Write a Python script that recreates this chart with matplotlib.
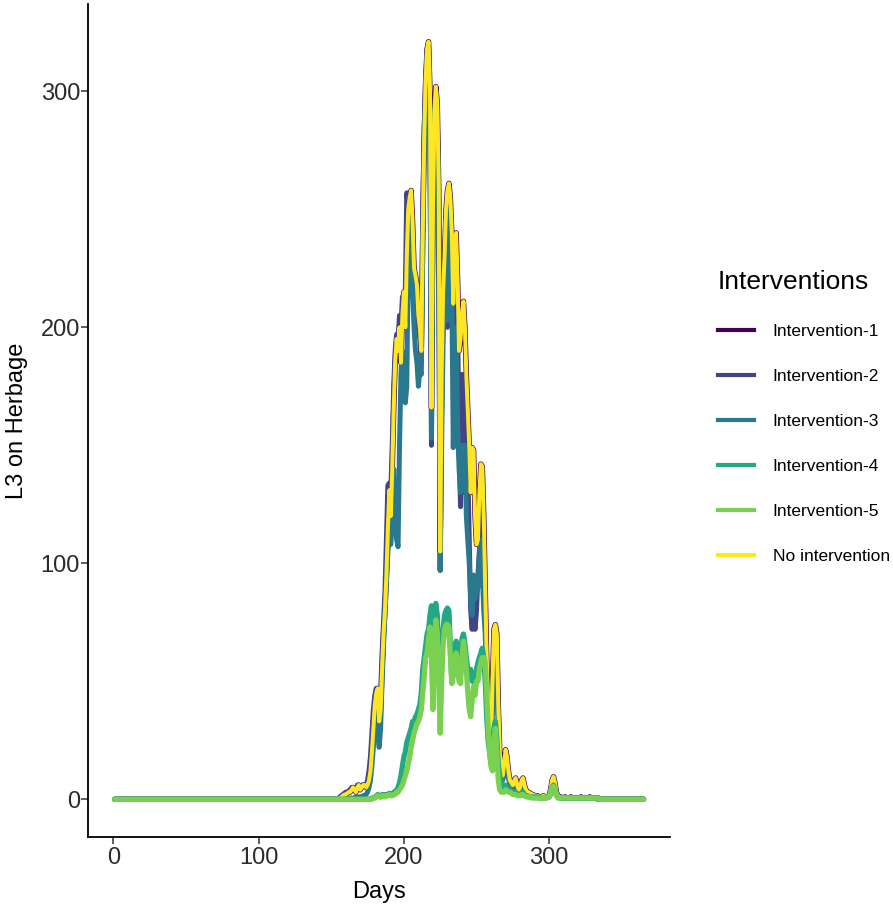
import numpy as np
import matplotlib
matplotlib.use('Agg')
import matplotlib.pyplot as plt
from matplotlib.lines import Line2D

plt.rcParams['font.family'] = ['Liberation Sans', 'DejaVu Sans']

# daily L3 values; everything outside days 150-339 sits at 0
first_day = 150
last_day = 365

no_int = [
    0, 0, 0, 0, 0, 0, 0.5, 1, 1.5, 2,
    2, 2.5, 3, 3, 4, 5, 4, 3, 5, 6,
    4, 5, 6, 6, 5, 6, 8, 12, 20, 30,
    40, 45, 47, 33, 38, 55, 70, 80, 95, 115,
    131, 120, 140, 165, 185, 195, 190, 200, 185, 205,
    215, 200, 230, 250, 255, 258, 245, 225, 222, 218,
    205, 200, 190, 240, 280, 305, 318, 321, 300, 166,
    250, 290, 302, 295, 260, 105, 180, 215, 230, 250,
    258, 261, 255, 240, 210, 235, 240, 220, 190, 195,
    205, 211, 200, 180, 165, 150, 130, 149, 148, 120,
    108, 110, 130, 142, 141, 120, 90, 60, 40, 30,
    24, 50, 72, 74, 70, 40, 20, 12, 10, 15,
    21, 18, 12, 8, 7, 6, 8, 9, 6, 4,
    5, 8, 9, 6, 4, 3, 3, 2.5, 2, 2,
    1.5, 1.5, 1.5, 1, 1, 1, 1.5, 1, 1, 1,
    1.5, 4, 8, 9.5, 7, 3, 1.5, 1, 1, 0.5,
    0.5, 1, 0.5, 0.5, 0.5, 1, 0.5, 0.5, 0.5, 0.5,
    0.5, 0.5, 1, 0.5, 0.5, 0.5, 0.5, 0.5, 1, 0.5,
    0.5, 0.5, 0.5, 0.5, 0.5, 0, 0, 0, 0, 0,
]

int1 = list(no_int)  # reads the same as no intervention

int2 = [
    0, 0, 0, 0, 0, 0, 1, 1.5, 2, 2.5,
    3, 3, 3.5, 4, 5, 5, 4, 4, 6, 6,
    5, 6, 6, 6, 6, 8, 12, 18, 28, 38,
    44, 47, 42, 30, 45, 62, 75, 88, 110, 133,
    134, 130, 150, 175, 190, 197, 195, 205, 200, 213,
    212, 215, 257, 252, 250, 245, 235, 222, 218, 210,
    200, 195, 185, 250, 285, 305, 318, 320, 290, 150,
    250, 290, 300, 290, 255, 97, 170, 205, 225, 245,
    200, 258, 250, 235, 200, 225, 230, 200, 150, 124,
    180, 130, 180, 160, 140, 110, 80, 72, 90, 72,
    80, 95, 105, 130, 125, 100, 75, 55, 38, 28,
    22, 45, 65, 68, 60, 35, 18, 11, 9, 13,
    18, 15, 10, 7, 6, 5, 7, 8, 5, 4,
    4, 7, 8, 5, 3.5, 3, 2.5, 2, 2, 1.5,
    1.5, 1.5, 1, 1, 1, 1, 1, 1, 1, 1,
    1.5, 3.5, 7, 8.5, 6, 2.5, 1.5, 1, 1, 0.5,
    0.5, 1, 0.5, 0.5, 0.5, 1, 0.5, 0.5, 0.5, 0.5,
    0.5, 0.5, 1, 0.5, 0.5, 0.5, 0.5, 0.5, 1, 0.5,
    0.5, 0.5, 0.5, 0.5, 0.5, 0, 0, 0, 0, 0,
]

int3 = [
    0, 0, 0, 0, 0, 0, 0, 0, 0, 0,
    0, 0, 0, 0.5, 0.5, 0.5, 0.5, 1, 1, 1,
    1, 1, 1.5, 1.5, 2, 3, 5, 8, 14, 22,
    30, 35, 30, 22, 30, 50, 65, 80, 92, 105,
    110, 108, 118, 140, 120, 110, 107, 150, 180, 190,
    180, 168, 175, 230, 245, 240, 215, 200, 190, 185,
    175, 182, 180, 235, 275, 300, 315, 318, 285, 153,
    245, 285, 298, 285, 250, 97, 150, 195, 215, 235,
    203, 250, 240, 215, 149, 180, 200, 158, 140, 130,
    150, 135, 150, 120, 110, 100, 85, 78, 95, 85,
    88, 90, 105, 110, 95, 80, 70, 50, 35, 25,
    20, 40, 58, 62, 50, 30, 15, 9, 8, 11,
    15, 13, 9, 6, 5, 4.5, 6, 7, 4.5, 3.5,
    3.5, 6, 7, 4.5, 3, 2.5, 2, 2, 1.5, 1.5,
    1, 1, 1, 1, 1, 1, 1, 1, 1, 1,
    1, 3, 6, 7.5, 5, 2, 1, 1, 0.5, 0.5,
    0.5, 0.5, 0.5, 0.5, 0.5, 0.5, 0.5, 0.5, 0.5, 0.5,
    0.5, 0.5, 0.5, 0.5, 0.5, 0.5, 0.5, 0.5, 0.5, 0.5,
    0.5, 0.5, 0.5, 0, 0, 0, 0, 0, 0, 0,
]

int4 = [
    0, 0, 0, 0, 0, 0, 0, 0, 0, 0,
    0, 0, 0, 0, 0, 0, 0, 0, 0, 0,
    0, 0, 0, 0, 0, 0, 0, 0, 0.5, 0.5,
    1, 1, 2, 1.5, 1, 2, 2, 1.5, 2, 2,
    2.5, 2, 2, 3, 3, 4, 5, 7, 10, 14,
    18, 20, 24, 26, 28, 30, 33, 32, 35, 36,
    38, 40, 45, 55, 60, 65, 70, 72, 78, 82,
    70, 80, 83, 78, 60, 45, 62, 72, 78, 80,
    81, 80, 65, 50, 55, 62, 67, 60, 55, 60,
    68, 70, 66, 60, 55, 52, 55, 50, 52, 48,
    55, 58, 60, 62, 64, 60, 50, 35, 25, 20,
    15, 20, 30, 33, 25, 15, 10, 7, 6, 5,
    6, 5, 4, 4, 3, 3, 3, 3, 2, 2,
    2, 2.5, 3, 2, 1.5, 1.5, 1, 1, 1, 1,
    1, 1, 1, 0.5, 0.5, 0.5, 0.5, 0.5, 0.5, 1,
    1, 2, 5, 6, 4, 1.5, 1, 0.5, 0.5, 0.5,
    0.5, 0.5, 0.5, 0.5, 0.5, 0.5, 0.5, 0.5, 0.5, 0.5,
    0.5, 0.5, 0.5, 0.5, 0.5, 0.5, 0.5, 0.5, 0.5, 0.5,
    0.5, 0.5, 0.5, 0.5, 0.5, 0, 0, 0, 0, 0,
]

int5 = [
    0, 0, 0, 0, 0, 0, 0, 0, 0, 0,
    0, 0, 0, 0, 0, 0, 0, 0, 0, 0,
    0, 0, 0, 0, 0, 0, 0, 0, 0, 0.5,
    0.5, 1, 1.5, 1, 1, 1.5, 1.5, 1, 1.5, 1.5,
    2, 1.5, 1.5, 2, 2, 3, 3, 4, 5, 6,
    8, 10, 12, 15, 18, 22, 25, 28, 30, 32,
    33, 35, 38, 45, 52, 60, 62, 68, 73, 60,
    38, 65, 76, 70, 50, 28, 50, 65, 72, 74,
    74, 73, 60, 49, 52, 58, 62, 55, 50, 49,
    60, 67, 62, 55, 45, 38, 35, 42, 48, 44,
    50, 50, 55, 58, 60, 60, 58, 45, 30, 20,
    14, 12, 25, 30, 20, 8, 4, 3, 3, 3,
    4, 3.5, 3, 3, 2.5, 2, 2, 2, 1.5, 1.5,
    1.5, 2, 2, 1.5, 1, 1, 1, 1, 0.5, 0.5,
    0.5, 0.5, 0.5, 0.5, 0.5, 0.5, 0.5, 0.5, 0.5, 1,
    1, 2, 4.5, 5.5, 3.5, 1.5, 0.5, 0.5, 0.5, 0.5,
    0.5, 0.5, 0.5, 0.5, 0.5, 0.5, 0.5, 0.5, 0.5, 0.5,
    0.5, 0.5, 0.5, 0.5, 0.5, 0.5, 0.5, 0.5, 0.5, 0.5,
    0.5, 0.5, 0.5, 0.5, 0.5, 0, 0, 0, 0, 0,
]

labels = ['Intervention-1', 'Intervention-2', 'Intervention-3',
          'Intervention-4', 'Intervention-5', 'No intervention']
colors = ['#440154', '#414487', '#2A788E', '#22A884', '#7AD151', '#FDE725']
series = [int1, int2, int3, int4, int5, no_int]

days = np.arange(1, last_day + 1)


def full_year(vals):
    out = np.zeros(last_day)
    out[first_day - 1:first_day - 1 + len(vals)] = vals
    return out


fig = plt.figure(figsize=(8.93, 9.09), dpi=100)
ax = fig.add_axes([0.0989, 0.0792, 0.6514, 0.9164])

# drawing order: yellow sits over 1-3, the green ones end up on top
widths = {0: 3.9, 1: 3.6, 2: 3.6, 3: 3.8, 4: 3.8, 5: 2.9}
for i in [0, 1, 2, 5, 3, 4]:
    ax.plot(days, full_year(series[i]), color=colors[i], lw=widths[i],
            solid_capstyle='round', solid_joinstyle='round')

ax.set_xlim(-17.2, 383.2)
ax.set_ylim(-16, 337)
ax.set_xticks([0, 100, 200, 300])
ax.set_yticks([0, 100, 200, 300])
for s in ['top', 'right']:
    ax.spines[s].set_visible(False)
for s in ['left', 'bottom']:
    ax.spines[s].set_linewidth(1.3)
ax.tick_params(axis='both', length=5, width=1.1, color='#333333',
               labelsize=17, labelcolor='#2b2b2b', pad=2)
ax.tick_params(axis='y', pad=1)
ax.set_xlabel('Days', fontsize=17, labelpad=9)
ax.set_ylabel('L3 on Herbage', fontsize=17, labelpad=9)

handles = [Line2D([0], [0], color=c, lw=3) for c in colors]
leg = fig.legend(handles, labels, loc='upper left', bbox_to_anchor=(0.794, 0.713),
                 frameon=False, fontsize=12.5, title='Interventions',
                 title_fontsize=19, alignment='left', handlelength=2.07,
                 handletextpad=1.1, labelspacing=1.72, borderpad=0)

fig.savefig('out.png', dpi=100)
